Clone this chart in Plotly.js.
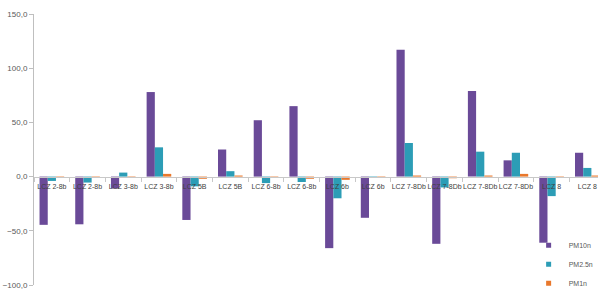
<!DOCTYPE html>
<html><head><meta charset="utf-8">
<script src="https://cdn.plot.ly/plotly-3.0.1.min.js"></script>
<style>html,body{margin:0;padding:0;background:#fff}#c{width:598px;height:291px}</style>
</head><body><div id="c"></div>
<script>
const categories = ["LCZ 2-8b","LCZ 2-8b","LCZ 3-8b","LCZ 3-8b","LCZ 5B","LCZ 5B","LCZ 6-8b","LCZ 6-8b","LCZ 6b","LCZ 6b","LCZ 7-8Db","LCZ 7-8Db","LCZ 7-8Db","LCZ 7-8Db","LCZ 8","LCZ 8"];
const pm10 = [-44.5,-44,-11,78,-40,25,52,65,-66,-38,117,-62,79,15,-61,22];
const pm25 = [-4,-5.5,3.7,27,-9,5,-6,-5,-20,-1,31,-10,23,22,-18,8];
const pm1 = [-1,-0.5,-0.5,2.5,-2,1,-1,-2,-3,-1,1,-1.5,1,2.5,-1,1];
const seriesNames = ["PM10n","PM2.5n","PM1n"];
const colors = ["#6a4a98","#2c9db6","#e9782c"];
const ids = categories.map((_, i) => "c" + i);
const vals = [pm10, pm25, pm1];
const traces = vals.map((v, k) => ({
  type: "bar", x: ids, y: v, name: seriesNames[k], showlegend: false,
  marker: {color: colors[k]}
}));
seriesNames.forEach((n, k) => traces.push({
  type: "scatter", mode: "markers", x: [null], y: [null], name: n,
  marker: {symbol: "square", size: 5, color: colors[k]}, showlegend: true
}));
const layout = {
  width: 598, height: 291,
  margin: {l: 34, r: 0, t: 14, b: 6, autoexpand: false},
  paper_bgcolor: "#fff", plot_bgcolor: "#fff",
  separators: ",.",
  barmode: "group", bargap: 0.31, bargroupgap: 0,
  font: {family: "Liberation Sans, Arial, sans-serif", size: 8, color: "#595959"},
  showlegend: true,
  legend: {x: 0.877, y: 0.2, xanchor: "left", yanchor: "top", font: {size: 7, color: "#595959"}, bgcolor: "rgba(0,0,0,0)", itemwidth: 30, tracegroupgap: 0},
  xaxis: {
    type: "category", categoryorder: "array", categoryarray: ids,
    range: [-0.5, 15.3], tickmode: "array", tickvals: ids, ticktext: categories,
    tickson: "boundaries",
    anchor: "free", position: 0.4,
    showline: true, linecolor: "#c8c8c8", linewidth: 1,
    ticks: "outside", ticklen: 4, tickcolor: "#c8c8c8", showgrid: false, zeroline: false,
    tickfont: {size: 7, color: "#404040"}, tickangle: 0, ticklabelstandoff: 3
  },
  yaxis: {
    range: [-100, 150], dtick: 50, tickformat: ".1f",
    showline: true, linecolor: "#bfbfbf", linewidth: 1,
    ticks: "outside", ticklen: 4, tickcolor: "#bfbfbf",
    showgrid: false, zeroline: false,
    tickfont: {size: 8, color: "#595959"}
  }
};
Plotly.newPlot("c", traces, layout, {displayModeBar: false, staticPlot: true});
</script></body></html>
